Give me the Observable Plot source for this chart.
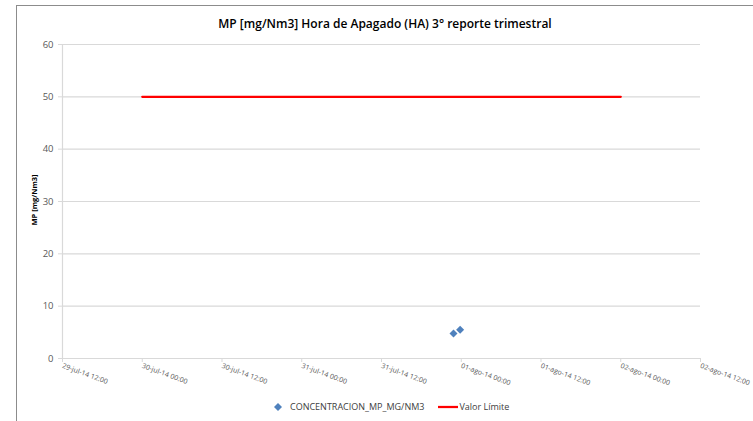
<!DOCTYPE html>
<html>
<head>
<meta charset="utf-8">
<script src="https://cdn.jsdelivr.net/npm/d3@7"></script>
<script src="https://cdn.jsdelivr.net/npm/@observablehq/plot@0.6"></script>
<style>
  html, body { margin: 0; padding: 0; background: #fff; }
  #wrap { position: relative; width: 753px; height: 421px; overflow: hidden; font-family: "Open Sans", "Liberation Sans", sans-serif; }
  #frame { position: absolute; left: 16px; top: 5px; width: 760px; height: 430px; border-left: 1.5px solid #8c8c8c; border-top: 1.5px solid #8c8c8c; }
  #title { position: absolute; left: 0; width: 770px; top: 15px; text-align: center; font-size: 12px; font-weight: 600; color: #000; }
  #ylab { position: absolute; left: 34px; top: 200px; transform: translate(-50%, -50%) rotate(-90deg); font-size: 7.5px; font-weight: 700; color: #000; white-space: nowrap; }
  #chart { position: absolute; left: 0; top: 0; }
  #legend { position: absolute; top: 400px; left: 272px; font-size: 9px; color: #404040; display: flex; align-items: center; white-space: nowrap; }
  .sw { display: inline-block; }
</style>
</head>
<body>
<div id="wrap">
  <div id="frame"></div>
  <div id="chart"></div>
  <div id="title">MP [mg/Nm3] Hora de Apagado (HA) 3° reporte trimestral</div>
  <div id="ylab">MP [mg/Nm3]</div>
  <div id="legend"></div>
</div>
<script>
// ---- data ----
const tickTimes = ["2014-07-29T12:00Z","2014-07-30T00:00Z","2014-07-30T12:00Z","2014-07-31T00:00Z","2014-07-31T12:00Z","2014-08-01T00:00Z","2014-08-01T12:00Z","2014-08-02T00:00Z","2014-08-02T12:00Z"];
const tickLabels = ["29-jul-14 12:00","30-jul-14 00:00","30-jul-14 12:00","31-jul-14 00:00","31-jul-14 12:00","01-ago-14 00:00","01-ago-14 12:00","02-ago-14 00:00","02-ago-14 12:00"];
const yTicks = [0, 10, 20, 30, 40, 50, 60];

const concTimes = ["2014-07-31T22:50Z", "2014-07-31T23:50Z"];
const concValues = [4.8, 5.5];

const limitTimes = ["2014-07-30T00:00Z", "2014-08-02T00:00Z"];
const limitValues = [50, 50];

const seriesNames = ["CONCENTRACION_MP_MG/NM3", "Valor Límite"];
const seriesColors = ["#4f81bd", "#ff0000"];

// ---- build ----
const tickDates = tickTimes.map(t => new Date(t));
const labelMap = new Map(tickDates.map((d, i) => [+d, tickLabels[i]]));
const conc = concTimes.map((t, i) => ({x: new Date(t), y: concValues[i]}));
const limit = limitTimes.map((t, i) => ({x: new Date(t), y: limitValues[i]}));

const chart = Plot.plot({
  width: 753,
  height: 395,
  marginTop: 44,
  marginBottom: 37,
  marginLeft: 62,
  marginRight: 53,
  style: { fontFamily: "'Open Sans', 'Liberation Sans', sans-serif", background: "transparent", overflow: "visible" },
  x: { type: "utc", domain: [tickDates[0], tickDates[tickDates.length - 1]] },
  y: { domain: [0, 60] },
  marks: [
    Plot.gridY(yTicks, { stroke: "#d9d9d9", strokeOpacity: 1, strokeWidth: 1.2 }),
    Plot.ruleX([tickDates[0]], { stroke: "#d9d9d9", strokeWidth: 1.2 }),
    Plot.axisY(yTicks, { tickSize: 4, tickPadding: 5, stroke: "#d9d9d9", fill: "#595959", fontSize: 9.5, label: null }),
    Plot.axisX(tickDates, { tickFormat: d => labelMap.get(+d), tickRotate: 20, tickSize: 4, tickPadding: 3, stroke: "#d9d9d9", fill: "#595959", fontSize: 7, label: null }),
    Plot.line(limit, { x: "x", y: "y", stroke: seriesColors[1], strokeWidth: 2.25 }),
    Plot.dot(conc, { x: "x", y: "y", symbol: "diamond2", r: 3.6, fill: seriesColors[0], stroke: null })
  ]
});
document.getElementById("chart").appendChild(chart);

// ---- legend ----
const lg = document.getElementById("legend");
lg.innerHTML =
  `<svg class="sw" width="12" height="10"><path d="M6 1 L10 5 L6 9 L2 5 Z" fill="${seriesColors[0]}"/></svg>` +
  `<span style="margin-left:6px">${seriesNames[0]}</span>` +
  `<svg class="sw" width="22" height="10" style="margin-left:13px"><line x1="1" x2="21" y1="5" y2="5" stroke="${seriesColors[1]}" stroke-width="2.25"/></svg>` +
  `<span>${seriesNames[1]}</span>`;
</script>
</body>
</html>
